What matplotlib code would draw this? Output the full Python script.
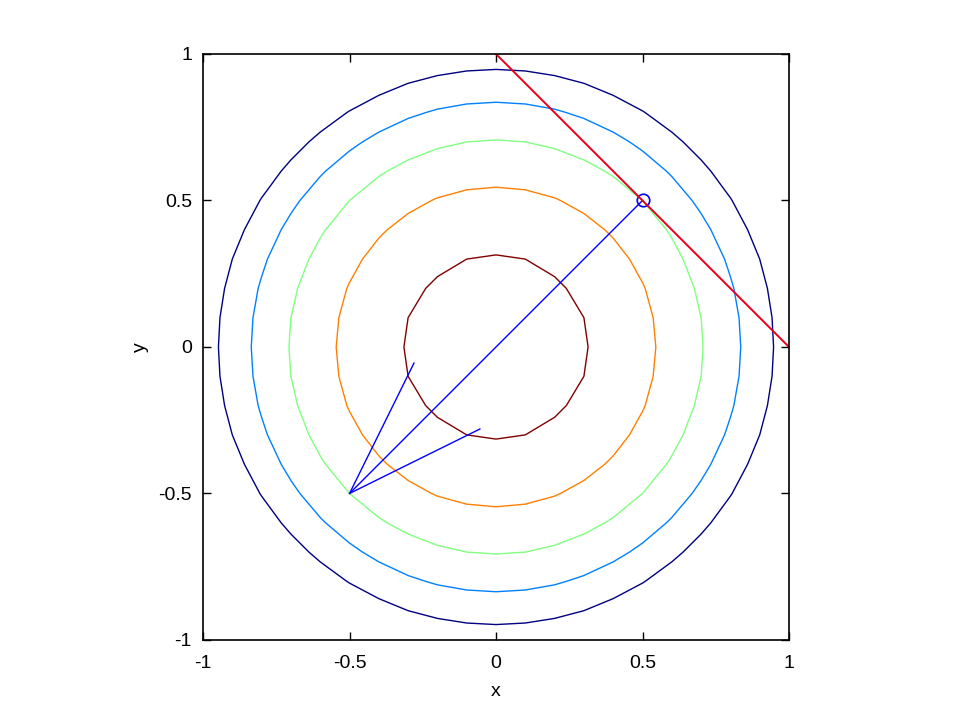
import matplotlib
matplotlib.use("Agg")
import matplotlib.pyplot as plt
import numpy as np

# contour levels of f = x^2 + y^2 and their colours (jet, low -> high)
levels = [0.1, 0.3, 0.5, 0.7, 0.9]
level_colors = ["#800000", "#ff8000", "#80ff80", "#0080ff", "#000080"]
grid = np.linspace(-1, 1, 21)

# gradient step from the marked point, plus the arrow head
point = (0.5, 0.5)
arrow_x = [0.5, -0.5]
arrow_y = [0.5, -0.5]
head_x = [-0.28, -0.5, -0.055]
head_y = [-0.055, -0.5, -0.28]

# tangent line x + y = 1
tangent_x = [0, 1]
tangent_y = [1, 0]

ticks = [-1, -0.5, 0, 0.5, 1]
tick_labels = ["-1", "-0.5", "0", "0.5", "1"]

plt.rcParams.update({
    "font.family": ["Liberation Sans", "DejaVu Sans"],
    "font.size": 14,
    "xtick.direction": "in",
    "ytick.direction": "in",
    "xtick.top": True,
    "ytick.right": True,
})

fig = plt.figure(figsize=(9.58, 7.19), dpi=100)
ax = fig.add_axes([0.2119, 0.1099, 0.6117, 0.815])

X, Y = np.meshgrid(grid, grid)
Z = X**2 + Y**2
ax.contour(X, Y, Z, levels=levels, colors=level_colors, linewidths=1.0)

ax.plot(arrow_x, arrow_y, color="#0000ff", lw=1.0)
ax.plot(head_x, head_y, color="#0000ff", lw=1.0)
ax.plot(*point, "o", mfc="none", mec="#0000ff", ms=9, mew=1.2)
ax.plot(tangent_x, tangent_y, color="#e8001a", lw=1.4)

ax.set_xlim(-1, 1)
ax.set_ylim(-1, 1)
ax.set_xticks(ticks)
ax.set_xticklabels(tick_labels)
ax.set_yticks(ticks)
ax.set_yticklabels(tick_labels)
ax.tick_params(length=6, width=1)
ax.tick_params(axis="x", pad=11)
ax.tick_params(axis="y", pad=8)
for s in ax.spines.values():
    s.set_linewidth(1.2)
ax.set_xlabel("x", labelpad=8)
ax.set_ylabel("y", labelpad=7)

fig.savefig("out.png", dpi=100)
